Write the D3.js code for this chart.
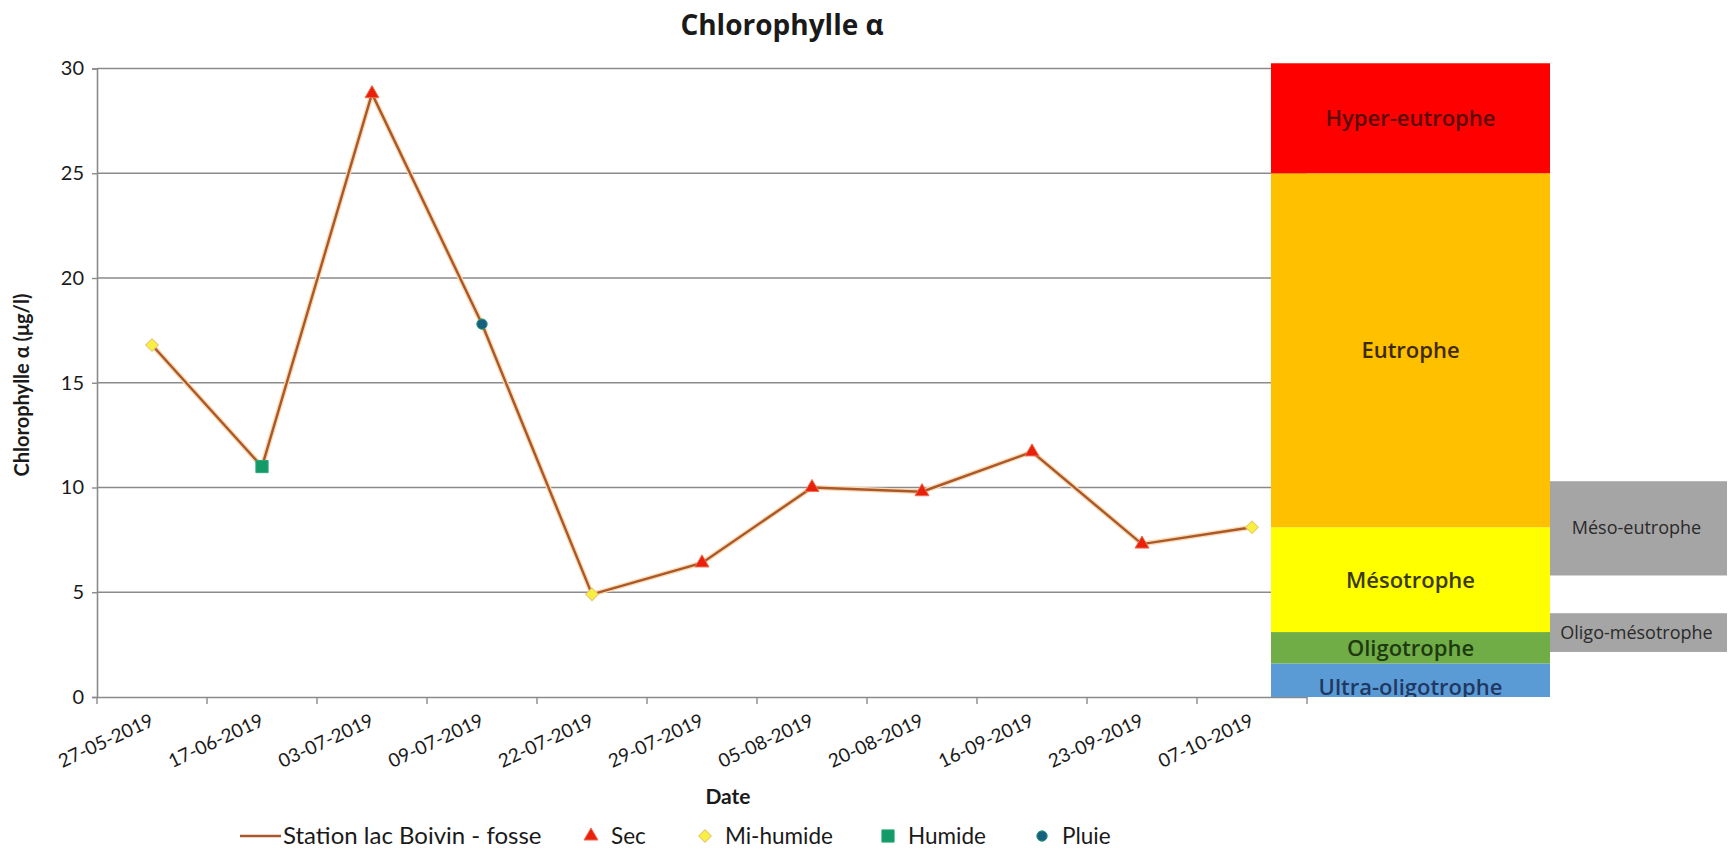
<!DOCTYPE html>
<html>
<head>
<meta charset="utf-8">
<script src="https://cdn.jsdelivr.net/npm/d3@7"></script>
<style>
  body { margin: 0; background: #fff; }
  text { font-family: Lato, "Open Sans", sans-serif; fill: #1a1a1a; }
  .box text { font-family: "Open Sans", sans-serif; }
</style>
</head>
<body>
<div id="chart"></div>
<script>
// sampling dates and values (µg/l)
var dates = ["27-05-2019", "17-06-2019", "03-07-2019", "09-07-2019", "22-07-2019", "29-07-2019",
             "05-08-2019", "20-08-2019", "16-09-2019", "23-09-2019", "07-10-2019"];
var values = [16.8, 11.0, 28.8, 17.8, 4.9, 6.4, 10.0, 9.8, 11.7, 7.3, 8.1];
var weather = ["Mi-humide", "Humide", "Sec", "Pluie", "Mi-humide", "Sec",
               "Sec", "Sec", "Sec", "Sec", "Mi-humide"];
var yTicks = [0, 5, 10, 15, 20, 25, 30];

// trophic classes drawn on the right
var trophicNames = ["Ultra-oligotrophe", "Oligotrophe", "Mésotrophe", "Eutrophe", "Hyper-eutrophe"];
var trophicLow   = [0, 1.6, 3.1, 8.1, 25];
var trophicHigh  = [1.6, 3.1, 8.1, 25, 30.25];
var trophicColor = ["#5b9bd5", "#70ad47", "#ffff00", "#ffc000", "#ff0000"];
var trophicText  = ["#1f3864", "#1e3a10", "#3a3a10", "#3d2a00", "#5a0a0a"];
var transNames = ["Méso-eutrophe", "Oligo-mésotrophe"];
var transLow   = [5.8, 2.15];
var transHigh  = [10.3, 4.0];

var W = 1730, H = 852;
var plotLeft = 97, plotRight = 1307, plotTop = 68.5, plotBottom = 697;

var svg = d3.select("#chart")
    .append("svg")
        .attr("width", W)
        .attr("height", H);

var x = d3.scaleBand()
        .domain(dates)
        .range([plotLeft, plotRight]);

var y = d3.scaleLinear()
        .domain([0, 30])
        .range([plotBottom, plotTop]);

// gridlines
svg.append("g")
    .selectAll("line")
    .data(yTicks.slice(1))
    .enter().append("line")
      .attr("x1", plotLeft).attr("x2", plotRight)
      .attr("y1", d => y(d)).attr("y2", d => y(d))
      .attr("stroke", "#8a8a8a")
      .attr("stroke-width", 1.4);

// y axis
var yAxis = svg.append("g")
    .attr("transform", "translate(" + plotLeft + ",0)")
    .call(d3.axisLeft(y).tickValues(yTicks).tickSize(5).tickPadding(8));
yAxis.selectAll("text").style("font-size", "20px").attr("fill", "#1a1a1a");

// x axis
var xAxis = svg.append("g")
    .attr("transform", "translate(0," + plotBottom + ")")
    .call(d3.axisBottom(x).tickSize(0).tickPadding(0));
xAxis.selectAll(".tick line").remove();
xAxis.selectAll("text")
    .style("font-size", "19px")
    .attr("fill", "#1a1a1a")
    .attr("text-anchor", "end")
    .attr("dy", 0)
    .attr("transform", "translate(" + (x.bandwidth() / 2 - 52) + ",28) rotate(-25)");
// band boundary ticks
xAxis.selectAll(".bt")
    .data(dates.concat(["end"]))
    .enter().append("line")
      .attr("x1", (d, i) => plotLeft + i * x.bandwidth())
      .attr("x2", (d, i) => plotLeft + i * x.bandwidth())
      .attr("y1", 0).attr("y2", 7)
      .attr("stroke", "#8a8a8a").attr("stroke-width", 1.4);
svg.selectAll(".domain").attr("stroke", "#8a8a8a").attr("stroke-width", 1.6);
yAxis.selectAll(".tick line").attr("stroke", "#8a8a8a").attr("stroke-width", 1.4);

// titles
svg.append("text")
    .attr("x", 782).attr("y", 35)
    .attr("text-anchor", "middle")
    .style("font-size", "28px").style("font-weight", "bold")
    .style("font-family", "'Open Sans', sans-serif")
    .text("Chlorophylle α");

svg.append("text")
    .attr("transform", "translate(29,385) rotate(-90)")
    .attr("text-anchor", "middle")
    .style("font-size", "20px").style("font-weight", "bold")
    .text("Chlorophylle α (μg/l)");

svg.append("text")
    .attr("x", 728).attr("y", 804)
    .attr("text-anchor", "middle")
    .style("font-size", "21px").style("font-weight", "bold")
    .text("Date");

// trophic box
var boxX = 1271, boxW = 279, transX = 1550, transW = 177;
var box = svg.append("g").attr("class", "box");
svg.append("clipPath").attr("id", "boxclip")
    .append("rect").attr("x", boxX).attr("y", 0).attr("width", boxW).attr("height", plotBottom);

box.selectAll("rect.tr")
    .data(trophicNames)
    .enter().append("rect")
      .attr("class", "tr")
      .attr("x", boxX).attr("width", boxW)
      .attr("y", (d, i) => y(trophicHigh[i]))
      .attr("height", (d, i) => y(trophicLow[i]) - y(trophicHigh[i]))
      .attr("fill", (d, i) => trophicColor[i]);

box.append("g").attr("clip-path", "url(#boxclip)")
    .selectAll("text")
    .data(trophicNames)
    .enter().append("text")
      .attr("x", boxX + boxW / 2)
      .attr("y", (d, i) => y((trophicLow[i] + trophicHigh[i]) / 2) + (i == 0 ? 15 : 8))
      .attr("text-anchor", "middle")
      .style("font-size", "22px")
      .style("font-weight", 600)
      .style("fill", (d, i) => trophicText[i])
      .text(d => d);

box.selectAll("rect.tn")
    .data(transNames)
    .enter().append("rect")
      .attr("class", "tn")
      .attr("x", transX).attr("width", transW)
      .attr("y", (d, i) => y(transHigh[i]))
      .attr("height", (d, i) => y(transLow[i]) - y(transHigh[i]))
      .attr("fill", "#a5a5a5");

box.selectAll("text.tn")
    .data(transNames)
    .enter().append("text")
      .attr("class", "tn")
      .attr("x", transX + transW / 2 - 2)
      .attr("y", (d, i) => y((transLow[i] + transHigh[i]) / 2) + 6)
      .attr("text-anchor", "middle")
      .style("font-size", "18px")
      .style("fill", "#2a2a2a")
      .text(d => d);

// series line
var data = dates.map(function(d, i) { return [d, values[i], weather[i]]; });
var cx = d => x(d[0]) + x.bandwidth() / 2;

var line = d3.line().x(cx).y(d => y(d[1]));
svg.append("path")
    .datum(data)
    .attr("d", line)
    .attr("fill", "none")
    .attr("stroke", "#fbd9b0")
    .attr("stroke-width", 5);
svg.append("path")
    .datum(data)
    .attr("d", line)
    .attr("fill", "none")
    .attr("stroke", "#a9582c")
    .attr("stroke-width", 2.4);

// markers by weather type
var markerStyle = {
  "Sec":       { type: d3.symbolTriangle, size: 85,  rot: 0,  fill: "#e8200c", stroke: "#f07050" },
  "Mi-humide": { type: d3.symbolSquare,   size: 80,  rot: 45, fill: "#f8f040", stroke: "#e8c870" },
  "Humide":    { type: d3.symbolSquare,   size: 150, rot: 0,  fill: "#139a68", stroke: "#2aa878" },
  "Pluie":     { type: d3.symbolCircle,   size: 85,  rot: 0,  fill: "#17607e", stroke: "#2a9a70" }
};
var symPath = k => d3.symbol().type(markerStyle[k].type).size(markerStyle[k].size)();

svg.selectAll("path.mk")
    .data(data)
    .enter().append("path")
      .attr("class", "mk")
      .attr("transform", d => "translate(" + cx(d) + "," + y(d[1]) + ") rotate(" + markerStyle[d[2]].rot + ")")
      .attr("d", d => symPath(d[2]))
      .attr("fill", d => markerStyle[d[2]].fill)
      .attr("stroke", d => markerStyle[d[2]].stroke)
      .attr("stroke-width", 1);

// legend
var legY = 836;
var leg = svg.append("g");
leg.append("line")
    .attr("x1", 240).attr("x2", 281).attr("y1", legY).attr("y2", legY)
    .attr("stroke", "#a9582c").attr("stroke-width", 2.6);
leg.append("text").attr("x", 283).attr("y", legY + 8)
    .style("font-size", "24px").text("Station lac Boivin - fosse");

var legItems = ["Sec", "Mi-humide", "Humide", "Pluie"];
var legSym = [591, 705, 888, 1042];
leg.selectAll("path")
    .data(legItems)
    .enter().append("path")
      .attr("transform", (d, i) => "translate(" + legSym[i] + "," + legY + ") rotate(" + markerStyle[d].rot + ")")
      .attr("d", d => symPath(d))
      .attr("fill", d => markerStyle[d].fill)
      .attr("stroke", d => markerStyle[d].stroke);
leg.selectAll("text.li")
    .data(legItems)
    .enter().append("text")
      .attr("class", "li")
      .attr("x", (d, i) => legSym[i] + 20)
      .attr("y", legY + 8)
      .style("font-size", "22.5px")
      .text(d => d);
</script>
</body>
</html>
